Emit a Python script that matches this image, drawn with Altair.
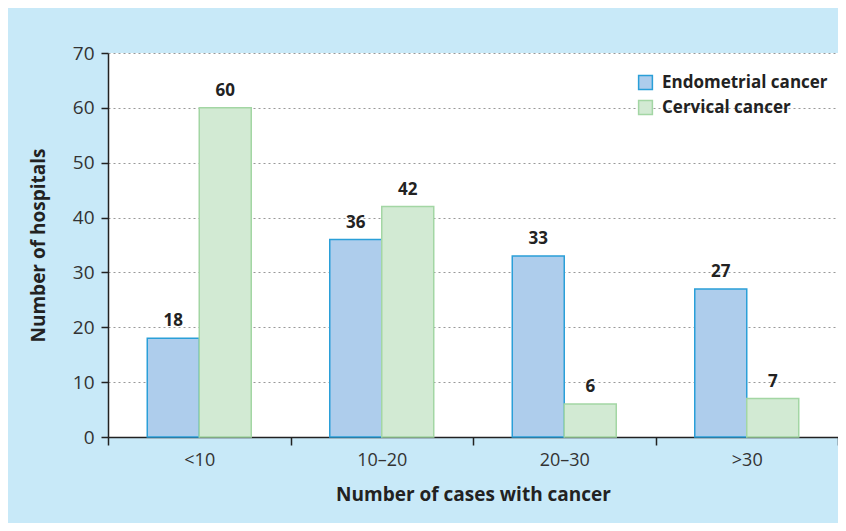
import altair as alt
import pandas as pd

categories = ["<10", "10–20", "20–30", ">30"]
series_names = ["Endometrial cancer", "Cervical cancer"]
endometrial = [18, 36, 33, 27]
cervical = [60, 42, 6, 7]
y_ticks = [0, 10, 20, 30, 40, 50, 60, 70]

rows = []
for c, v in zip(categories, endometrial):
    rows.append({"cat": c, "series": series_names[0], "value": v})
for c, v in zip(categories, cervical):
    rows.append({"cat": c, "series": series_names[1], "value": v})
df = pd.DataFrame(rows)

FONT = "Open Sans"

x_enc = alt.X(
    "cat:N",
    sort=categories,
    scale=alt.Scale(paddingInner=0, paddingOuter=0),
    axis=alt.Axis(
        title="Number of cases with cancer",
        labelAngle=0,
        tickBand="extent",
        tickSize=8,
        tickColor="#222",
        tickWidth=1.5,
        domainColor="#222",
        domainWidth=1.5,
        labelFont=FONT,
        labelFontSize=18,
        labelColor="#333",
        labelPadding=6,
        titleFont=FONT,
        titleFontSize=19,
        titleFontWeight="bold",
        titleColor="#222",
        titlePadding=16,
        grid=False,
    ),
)
xoff = alt.XOffset("series:N", sort=series_names,
                   scale=alt.Scale(paddingInner=0, paddingOuter=0.755))
y_enc = alt.Y(
    "value:Q",
    scale=alt.Scale(domain=[0, 70], nice=False),
    axis=alt.Axis(
        title="Number of hospitals",
        values=y_ticks,
        tickSize=7,
        tickColor="#222",
        tickWidth=1.5,
        domainColor="#222",
        domainWidth=1.5,
        labelFont=FONT,
        labelFontSize=19,
        labelColor="#333",
        labelPadding=7,
        titleFont=FONT,
        titleFontSize=19,
        titleFontWeight="bold",
        titleColor="#222",
        titlePadding=24,
        grid=True,
        gridColor="#999",
        gridDash=[2, 3],
        gridWidth=1,
    ),
)

legend = alt.Legend(
    title=None,
    orient="none",
    legendX=529,
    legendY=21,
    symbolType="square",
    symbolSize=190,
    symbolStrokeWidth=1.5,
    labelFont=FONT,
    labelFontSize=17,
    labelFontWeight="bold",
    labelColor="#222",
    labelLimit=400,
    rowPadding=4,
    labelOffset=8,
)

bars = alt.Chart(df).mark_bar(strokeWidth=1.5).encode(
    x=x_enc,
    xOffset=xoff,
    y=y_enc,
    fill=alt.Fill("series:N", sort=series_names,
                  scale=alt.Scale(domain=series_names, range=["#aecdec", "#d2ead3"]),
                  legend=legend),
    stroke=alt.Stroke("series:N", sort=series_names,
                      scale=alt.Scale(domain=series_names, range=["#2a9fd8", "#a3d6a4"]),
                      legend=legend),
)

texts = alt.Chart(df).mark_text(
    dy=-8, font=FONT, fontSize=17, fontWeight="bold", color="#222", baseline="bottom"
).encode(
    x=alt.X("cat:N", sort=categories),
    xOffset=xoff,
    y="value:Q",
    text="value:Q",
)

chart = (
    alt.layer(bars, texts)
    .properties(
        width=730,
        height=384,
        background="#c8e9f8",
        padding={"left": 100, "top": 45, "right": 0, "bottom": 86},
        autosize=alt.AutoSizeParams(type="none"),
    )
    .configure_view(fill="white", stroke=None)
)

chart.save("out.html", embed_options={"renderer": "svg", "actions": False})
